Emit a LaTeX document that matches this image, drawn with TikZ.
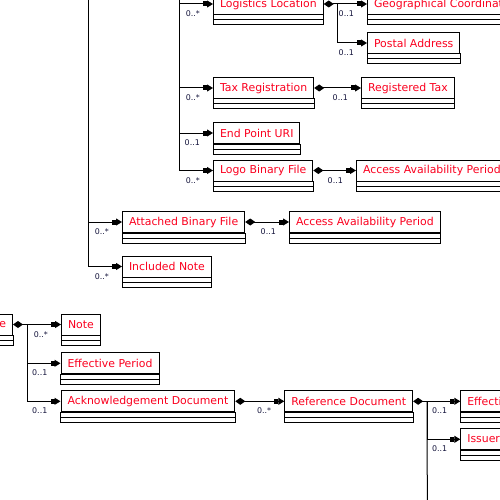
\documentclass[tikz,border=0pt]{standalone}
\usepackage{fontspec}
\setsansfont{DejaVu Sans}
\usepackage{tikz}
\usetikzlibrary{arrows.meta, positioning}
\definecolor{clsred}{RGB}{250,0,30}
\definecolor{multcol}{RGB}{20,20,60}
\newcommand{\clsfont}{\sffamily\fontsize{10.9pt}{13pt}\selectfont}
\newcommand{\multfont}{\sffamily\fontsize{7.9pt}{9pt}\selectfont}
\tikzset{
  cls/.style={draw, line width=1pt, text=clsred, font=\clsfont,
    minimum height=21pt, inner xsep=6.5pt, inner ysep=0pt, anchor=north west,
    append after command={\pgfextra{\draw[line width=1pt]
      (\tikzlastnode.south west) rectangle ([yshift=-5pt]\tikzlastnode.south east)
      ([yshift=-5pt]\tikzlastnode.south west) rectangle ([yshift=-10pt]\tikzlastnode.south east);}}},
  assoc/.style={line width=1pt, -{Rectangle[length=4pt,width=5pt]Triangle[length=6pt,width=7pt]}},
  comp/.style={line width=1pt, {Diamond[length=10pt,width=7pt]}-{Rectangle[length=4pt,width=5pt]Triangle[length=6pt,width=7pt]}},
  mult/.style={font=\multfont, text=multcol, inner sep=0pt}
}

\begin{document}
\begin{tikzpicture}[x=1pt,y=-1pt]
\useasboundingbox (0,0) rectangle (500,500);
\clip (0,0) rectangle (500,500);

\node[cls] (logist) at (213,-7) {Logistics Location};
\node[cls] (geo) at (367,-7) {Geographical Coordinates};
\node[cls] (postal) at (367,32) {Postal Address};
\node[cls] (taxreg) at (213,77) {Tax Registration};
\node[cls] (regtax) at (361,77) {Registered Tax};
\node[cls] (endpt) at (213,122) {End Point URI};
\node[cls] (logo) at (213,159.5) {Logo Binary File};
\node[cls] (avail) at (356,159.5) {Access Availability Period};
\node[cls] (attach) at (122,211) {Attached Binary File};
\node[cls] (availb) at (289,211) {Access Availability Period};
\node[cls] (incl) at (122,255.5) {Included Note};
\node[cls, anchor=north east] (resp) at (13,313.5) {Document Response};
\node[cls] (note) at (61,313.5) {Note};
\node[cls] (effper) at (60.5,352.3) {Effective Period};
\node[cls] (ackdoc) at (60.5,390.3) {Acknowledgement Document};
\node[cls] (refdoc) at (284.3,390.3) {Reference Document};
\node[cls] (effperb) at (460.3,390.3) {Effective Period};
\node[cls] (issuer) at (460.3,428.3) {Issuer Party};

\coordinate (topA) at (88,-10);
\coordinate (topB) at (179,-10);
\coordinate (botR) at (427.3,510);

\draw[assoc] (topA) |- (attach.west);
\draw[assoc] (topA) |- (incl.west);
\draw[assoc] (topB) |- (logist.west);
\draw[assoc] (topB) |- (taxreg.west);
\draw[assoc] (topB) |- (endpt.west);
\draw[assoc] (topB) |- (logo.west);
\draw[comp] (logist.east) -- (geo.west);
\draw[assoc] ([xshift=14pt]logist.east) |- (postal.west);
\draw[comp] (taxreg.east) -- (regtax.west);
\draw[comp] (logo.east) -- (avail.west);
\draw[comp] (attach.east) -- (availb.west);
\draw[comp] (resp.east) -- (note.west);
\draw[assoc] ([xshift=14pt]resp.east) |- (effper.west);
\draw[assoc] ([xshift=14pt]resp.east) |- (ackdoc.west);
\draw[comp] (ackdoc.east) -- (refdoc.west);
\draw[comp] (refdoc.east) -- (effperb.west);
\draw[assoc] ([xshift=14pt]refdoc.east) |- (issuer.west);
\draw[line width=1pt] ([xshift=14pt]refdoc.east) -- (botR);

\node[mult, below left=6.5pt and 13pt of logist.west] (mlogist) {0..*};
\node[mult, below left=6.5pt and 13pt of geo.west] (mgeo) {0..1};
\node[mult, below left=6.5pt and 13pt of postal.west] (mpostal) {0..1};
\node[mult, below left=6.5pt and 13pt of taxreg.west] (mtaxreg) {0..*};
\node[mult, below left=6.5pt and 13pt of regtax.west] (mregtax) {0..1};
\node[mult, below left=6.5pt and 13pt of endpt.west] (mendpt) {0..1};
\node[mult, below left=6.5pt and 13pt of logo.west] (mlogo) {0..*};
\node[mult, below left=6.5pt and 13pt of avail.west] (mavail) {0..1};
\node[mult, below left=6.5pt and 13pt of attach.west] (mattach) {0..*};
\node[mult, below left=6.5pt and 13pt of availb.west] (mavailb) {0..1};
\node[mult, below left=6.5pt and 13pt of incl.west] (mincl) {0..*};
\node[mult, below left=6.5pt and 13pt of note.west] (mnote) {0..*};
\node[mult, below left=6.5pt and 13pt of effper.west] (meffper) {0..1};
\node[mult, below left=6.5pt and 13pt of ackdoc.west] (mackdoc) {0..1};
\node[mult, below left=6.5pt and 13pt of refdoc.west] (mrefdoc) {0..*};
\node[mult, below left=6.5pt and 13pt of effperb.west] (meffperb) {0..1};
\node[mult, below left=6.5pt and 13pt of issuer.west] (missuer) {0..1};
\end{tikzpicture}
\end{document}
